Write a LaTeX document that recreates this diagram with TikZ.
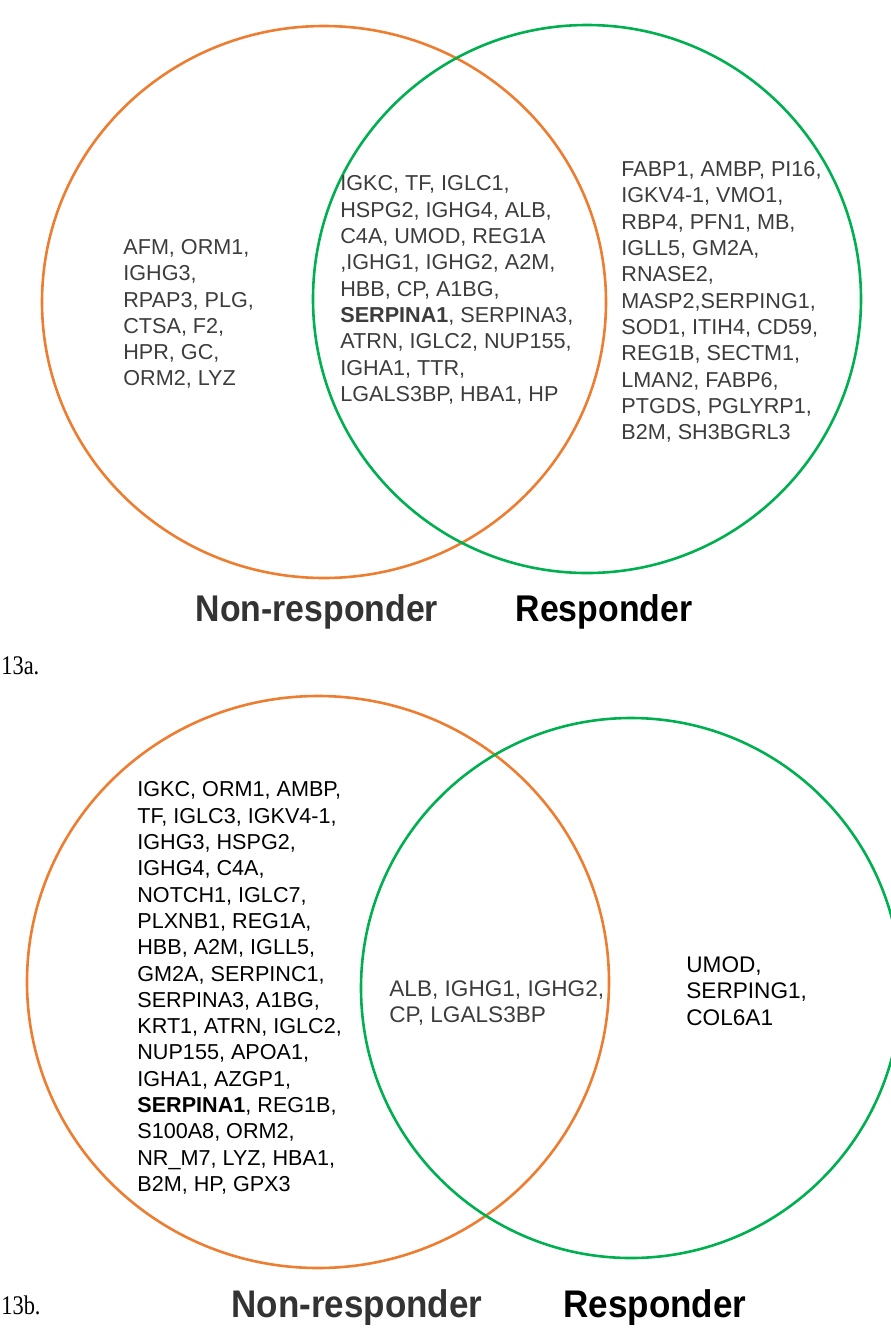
\documentclass[tikz,border=0pt]{standalone}
\usepackage{fontspec}
\setmainfont{Liberation Sans}
\newfontfamily\figfont{Liberation Serif}
\usepackage{graphicx}
\definecolor{vennorange}{HTML}{ED7D31}
\definecolor{venngreen}{HTML}{00B050}
\definecolor{genegray}{HTML}{3C3C3C}
\definecolor{labelgray}{HTML}{333333}

\begin{document}
\begin{tikzpicture}[x=0.5pt,y=-0.5pt,
    nonset/.style={draw=vennorange,line width=1.3pt},
    resset/.style={draw=venngreen,line width=1.3pt},
    genes/.style={anchor=west,align=left,inner sep=0pt,
      font=\fontsize{10.8}{13.15}\selectfont},
    biggenes/.style={genes,font=\fontsize{11.3}{13.15}\selectfont},
    grouplabel/.style={inner sep=0pt,font=\fontsize{16.9}{20}\selectfont\bfseries},
    panel/.style={anchor=west,inner sep=0pt,font=\figfont\fontsize{11.2}{13}\selectfont}]
  \useasboundingbox (0,0) rectangle (890,1329);

  % 13a
  \draw[nonset] (324,302) ellipse[x radius=282,y radius=276];
  \draw[resset] (587,299) circle[radius=274];
  \node[genes,text=genegray] (aNon) at (123,314) {AFM, ORM1,\\IGHG3,\\RPAP3, PLG,\\CTSA, F2,\\HPR, GC,\\ORM2, LYZ};
  \node[genes,text=genegray] (aBoth) at (340,290) {IGKC, TF, IGLC1,\\HSPG2, IGHG4, ALB,\\C4A, UMOD, REG1A\\,IGHG1, IGHG2, A2M,\\HBB, CP, A1BG,\\\textbf{SERPINA1}, SERPINA3,\\ATRN, IGLC2, NUP155,\\IGHA1, TTR,\\LGALS3BP, HBA1, HP};
  \node[genes,text=genegray] (aRes) at (621,302) {FABP1, AMBP, PI16,\\IGKV4-1, VMO1,\\RBP4, PFN1, MB,\\IGLL5, GM2A,\\RNASE2,\\MASP2,SERPING1,\\SOD1, ITIH4, CD59,\\REG1B, SECTM1,\\LMAN2, FABP6,\\PTGDS, PGLYRP1,\\B2M, SH3BGRL3};
  \node[grouplabel,text=labelgray] (aNonLbl) at (317,612) {\scalebox{1}[1.1]{Non-responder}};
  \node[grouplabel] (aResLbl) at (604,612) {\scalebox{1}[1.1]{Responder}};
  \node[panel] (aPanel) at (1,666) {\scalebox{1}[1.2]{13a.}};

  % 13b
  \draw[nonset] (318,982) ellipse[x radius=291,y radius=286];
  \draw[resset] (631,988) circle[radius=270];
  \node[genes,text=black] (bNon) at (137,988) {IGKC, ORM1, AMBP,\\TF, IGLC3, IGKV4-1,\\IGHG3, HSPG2,\\IGHG4, C4A,\\NOTCH1, IGLC7,\\PLXNB1, REG1A,\\HBB, A2M, IGLL5,\\GM2A, SERPINC1,\\SERPINA3, A1BG,\\KRT1, ATRN, IGLC2,\\NUP155, APOA1,\\IGHA1, AZGP1,\\\textbf{SERPINA1}, REG1B,\\S100A8, ORM2,\\NR\_M7, LYZ, HBA1,\\B2M, HP, GPX3};
  \node[biggenes,text=genegray] (bBoth) at (389,1003) {ALB, IGHG1, IGHG2,\\CP, LGALS3BP};
  \node[biggenes,text=black] (bRes) at (686,991) {UMOD,\\SERPING1,\\COL6A1};
  \node[grouplabel,text=labelgray] (bNonLbl) at (357,1308) {\scalebox{1}[1.1]{\fontsize{17.5}{20}\selectfont Non-responder}};
  \node[grouplabel] (bResLbl) at (655,1308) {\scalebox{1}[1.1]{\fontsize{17.5}{20}\selectfont Responder}};
  \node[panel] (bPanel) at (1,1305) {\scalebox{1}[1.2]{13b.}};
\end{tikzpicture}
\end{document}
